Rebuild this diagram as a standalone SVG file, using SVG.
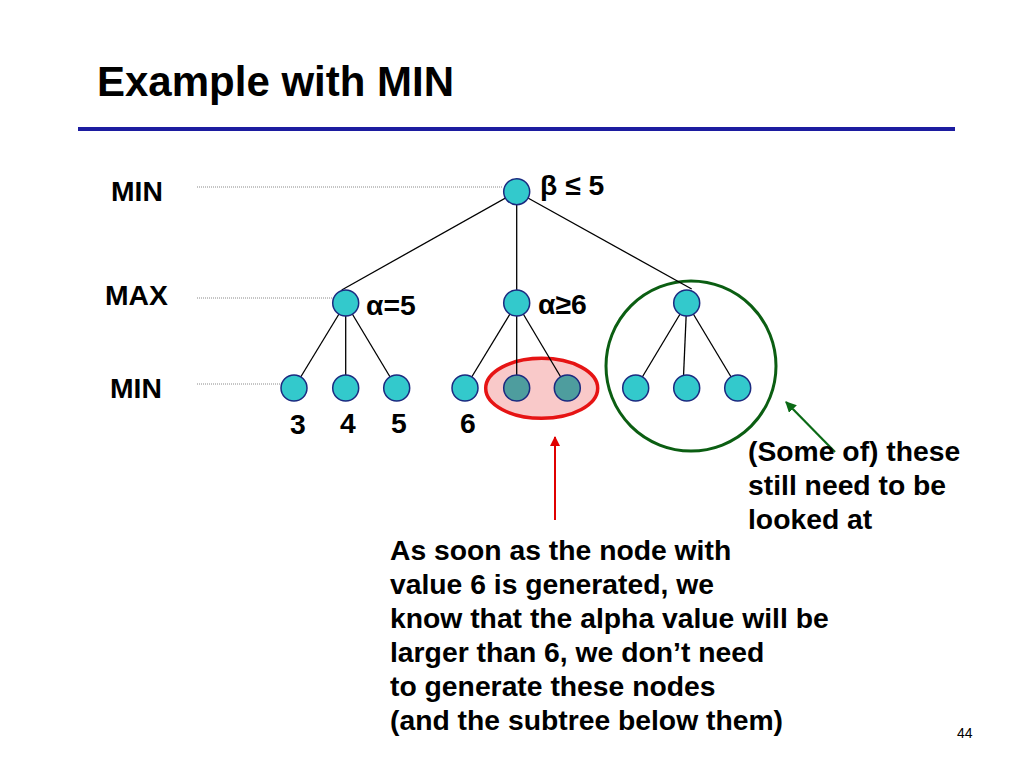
<svg xmlns="http://www.w3.org/2000/svg" width="1024" height="768" viewBox="0 0 1024 768">
<defs>
<style>
text{font-family:"Liberation Sans",Arial,sans-serif;font-weight:bold;fill:#000}
.t{font-size:28.3px}
.title{font-size:42px}
.pg{font-size:14px;font-weight:normal}
.n{fill:#33c9cc;stroke:#1b2a80;stroke-width:1.5}
.g{fill:#4e9d9e;stroke:#1b2a80;stroke-width:1.5}
.e{stroke:#000;stroke-width:1.3;fill:none}
.dot{stroke:#8a8a8a;stroke-width:1;stroke-dasharray:1 1;fill:none}
</style>
<marker id="ar" viewBox="0 0 10 10" refX="9" refY="5" markerWidth="5" markerHeight="5" orient="auto-start-reverse"><path d="M0,0 L10,5 L0,10 z" fill="#e00000"/></marker>
<marker id="ag" viewBox="0 0 10 10" refX="9" refY="5" markerWidth="5" markerHeight="5" orient="auto-start-reverse"><path d="M0,0 L10,5 L0,10 z" fill="#0b6a16"/></marker>
</defs>
<rect width="1024" height="768" fill="#fff"/>
<text class="title" x="97" y="96">Example with MIN</text>
<rect x="78" y="127" width="877" height="4" fill="#1c1ca0"/>

<g id="level-labels">
<text class="t" x="111" y="201">MIN</text>
<text class="t" x="105" y="305">MAX</text>
<text class="t" x="110" y="398">MIN</text>
</g>

<g id="pruned-region">
<ellipse cx="541.7" cy="388.3" rx="56" ry="30" fill="#f9c9c9" stroke="#e61414" stroke-width="3.5"/>
</g>
<g id="remaining-region">
<circle cx="691" cy="366" r="85" fill="none" stroke="#0b5e12" stroke-width="3"/>
</g>

<g id="connectors">
<line class="dot" x1="197" y1="187" x2="502" y2="187"/>
<line class="dot" x1="197" y1="298" x2="332" y2="298"/>
<line class="dot" x1="197" y1="384" x2="281" y2="384"/>
<line class="e" x1="516.7" y1="191.7" x2="341.7" y2="290"/>
<line class="e" x1="516.7" y1="191.7" x2="516.7" y2="303"/>
<line class="e" x1="516.7" y1="191.7" x2="691.7" y2="289"/>
<line class="e" x1="345.7" y1="303" x2="294" y2="388"/>
<line class="e" x1="345.7" y1="303" x2="345.7" y2="388"/>
<line class="e" x1="345.7" y1="303" x2="396.7" y2="388"/>
<line class="e" x1="516.7" y1="303" x2="465" y2="388"/>
<line class="e" x1="516.7" y1="303" x2="516.7" y2="388"/>
<line class="e" x1="516.7" y1="303" x2="567.3" y2="388"/>
<line class="e" x1="686.7" y1="303" x2="635.7" y2="388"/>
<line class="e" x1="686.7" y1="303" x2="683" y2="388"/>
<line class="e" x1="686.7" y1="303" x2="737.7" y2="388"/>
<line x1="555" y1="520" x2="555" y2="437" stroke="#e00000" stroke-width="2" marker-end="url(#ar)"/>
<line x1="835" y1="452" x2="786" y2="402" stroke="#0b6a16" stroke-width="2.2" marker-end="url(#ag)"/>
</g>

<g id="root"><circle class="n" cx="516.7" cy="191.7" r="13"/><text class="t" x="540" y="195">β ≤ 5</text></g>
<g id="max-left"><circle class="n" cx="345.7" cy="303" r="13"/><text class="t" x="366" y="315">α=5</text></g>
<g id="max-mid"><circle class="n" cx="516.7" cy="303" r="13"/><text class="t" x="538" y="314">α≥6</text></g>
<g id="max-right"><circle class="n" cx="686.7" cy="303" r="13"/></g>
<g id="leaf-3"><circle class="n" cx="294" cy="388" r="13"/><text class="t" x="290" y="434">3</text></g>
<g id="leaf-4"><circle class="n" cx="345.7" cy="388" r="13"/><text class="t" x="340" y="433">4</text></g>
<g id="leaf-5"><circle class="n" cx="396.7" cy="388" r="13"/><text class="t" x="391" y="433">5</text></g>
<g id="leaf-6"><circle class="n" cx="465" cy="388" r="13"/><text class="t" x="460" y="433">6</text></g>
<g id="leaf-pruned-1"><circle class="g" cx="516.7" cy="388" r="13"/></g>
<g id="leaf-pruned-2"><circle class="g" cx="567.3" cy="388" r="13"/></g>
<g id="leaf-r1"><circle class="n" cx="635.7" cy="388" r="13"/></g>
<g id="leaf-r2"><circle class="n" cx="686.7" cy="388" r="13"/></g>
<g id="leaf-r3"><circle class="n" cx="737.7" cy="388" r="13"/></g>

<g id="note-right">
<text class="t" x="748" y="461">(Some of) these</text>
<text class="t" x="748" y="495">still need to be</text>
<text class="t" x="748" y="529">looked at</text>
</g>
<g id="note-bottom">
<text class="t" x="390" y="560">As soon as the node with</text>
<text class="t" x="390" y="594">value 6 is generated, we</text>
<text class="t" x="390" y="628">know that the alpha value will be</text>
<text class="t" x="390" y="662">larger than 6, we don’t need</text>
<text class="t" x="390" y="696">to generate these nodes</text>
<text class="t" x="390" y="730">(and the subtree below them)</text>
</g>
<text class="pg" x="957" y="738">44</text>
</svg>
